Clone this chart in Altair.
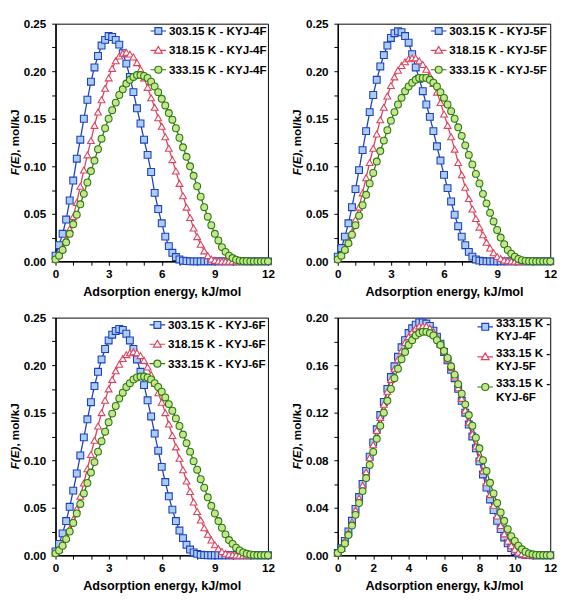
import altair as alt
import pandas as pd

# ---------------- data ----------------
E = [0.0, 0.2, 0.4, 0.6, 0.8, 1.0, 1.2, 1.4, 1.6, 1.8,
     2.0, 2.2, 2.4, 2.6, 2.8, 3.0, 3.2, 3.4, 3.6, 3.8,
     4.0, 4.2, 4.4, 4.6, 4.8, 5.0, 5.2, 5.4, 5.6, 5.8,
     6.0, 6.2, 6.4, 6.6, 6.8, 7.0, 7.2, 7.4, 7.6, 7.8,
     8.0, 8.2, 8.4, 8.6, 8.8, 9.0, 9.2, 9.4, 9.6, 9.8,
     10.0, 10.2, 10.4, 10.6, 10.8, 11.0, 11.2, 11.4, 11.6, 11.8, 12.0]

KYJ4F_303 = [0.006, 0.017, 0.029, 0.044, 0.064, 0.085, 0.108, 0.128, 0.150, 0.170,
             0.189, 0.204, 0.216, 0.227, 0.233, 0.237, 0.236, 0.233, 0.228, 0.219,
             0.208, 0.194, 0.178, 0.161, 0.145, 0.128, 0.112, 0.094, 0.072, 0.055,
             0.040, 0.026, 0.016, 0.009, 0.0045, 0.002, 0.0007, 0.0002, 0, 0,
             0, 0, 0, 0, 0, 0, 0, 0, 0, 0,
             0, 0, 0, 0, 0, 0, 0, 0, 0, 0, 0]
KYJ4F_318 = [0.002, 0.007, 0.014, 0.023, 0.034, 0.047, 0.062, 0.079, 0.096, 0.112,
             0.127, 0.143, 0.157, 0.170, 0.182, 0.193, 0.203, 0.211, 0.216, 0.219,
             0.220, 0.218, 0.215, 0.209, 0.202, 0.193, 0.183, 0.172, 0.162, 0.151,
             0.142, 0.131, 0.119, 0.107, 0.095, 0.082, 0.069, 0.057, 0.046, 0.035,
             0.026, 0.018, 0.011, 0.006, 0.0025, 0.001, 0.0004, 0.0001, 0, 0,
             0, 0, 0, 0, 0, 0, 0, 0, 0, 0, 0]
KYJ4F_333 = [0.002, 0.006, 0.012, 0.020, 0.029, 0.039, 0.049, 0.060, 0.071, 0.083,
             0.095, 0.106, 0.118, 0.129, 0.140, 0.150, 0.159, 0.167, 0.175, 0.181,
             0.187, 0.191, 0.194, 0.196, 0.196, 0.195, 0.193, 0.189, 0.184, 0.178,
             0.171, 0.164, 0.156, 0.149, 0.140, 0.130, 0.120, 0.110, 0.100, 0.090,
             0.079, 0.068, 0.057, 0.047, 0.038, 0.029, 0.022, 0.015, 0.010, 0.006,
             0.0035, 0.0017, 0.0008, 0.0003, 0.0001, 0, 0, 0, 0, 0, 0]

KYJ5F_303 = [0.005, 0.014, 0.026, 0.040, 0.057, 0.076, 0.096, 0.117, 0.137, 0.157,
             0.175, 0.191, 0.205, 0.217, 0.227, 0.235, 0.240, 0.242, 0.241, 0.237,
             0.230, 0.218, 0.204, 0.192, 0.179, 0.165, 0.152, 0.137, 0.121, 0.106,
             0.091, 0.077, 0.063, 0.049, 0.037, 0.026, 0.017, 0.010, 0.005, 0.002,
             0.0008, 0.0003, 0, 0, 0, 0, 0, 0, 0, 0,
             0, 0, 0, 0, 0, 0, 0, 0, 0, 0, 0]
KYJ5F_318 = [0.002, 0.007, 0.013, 0.021, 0.031, 0.044, 0.057, 0.072, 0.088, 0.104,
             0.119, 0.134, 0.149, 0.162, 0.174, 0.185, 0.194, 0.201, 0.206, 0.210,
             0.213, 0.214, 0.214, 0.211, 0.207, 0.202, 0.195, 0.187, 0.178, 0.167,
             0.155, 0.143, 0.131, 0.118, 0.104, 0.091, 0.078, 0.066, 0.055, 0.045,
             0.036, 0.028, 0.020, 0.014, 0.009, 0.005, 0.003, 0.0013, 0.0005, 0.0002,
             0, 0, 0, 0, 0, 0, 0, 0, 0, 0, 0]
KYJ5F_333 = [0.002, 0.006, 0.012, 0.019, 0.028, 0.038, 0.048, 0.059, 0.070, 0.082,
             0.093, 0.105, 0.116, 0.127, 0.138, 0.148, 0.157, 0.165, 0.172, 0.179,
             0.184, 0.188, 0.191, 0.193, 0.193, 0.193, 0.191, 0.188, 0.184, 0.178,
             0.172, 0.165, 0.158, 0.150, 0.141, 0.132, 0.122, 0.112, 0.102, 0.092,
             0.082, 0.071, 0.061, 0.051, 0.042, 0.033, 0.025, 0.018, 0.012, 0.008,
             0.005, 0.0025, 0.0012, 0.0005, 0.0002, 0.0001, 0, 0, 0, 0, 0]

KYJ6F_303 = [0.004, 0.012, 0.023, 0.036, 0.051, 0.068, 0.086, 0.105, 0.124, 0.143,
             0.161, 0.178, 0.193, 0.206, 0.217, 0.226, 0.232, 0.236, 0.238, 0.237,
             0.233, 0.226, 0.217, 0.206, 0.193, 0.179, 0.163, 0.146, 0.128, 0.110,
             0.093, 0.077, 0.062, 0.048, 0.036, 0.026, 0.018, 0.011, 0.006, 0.003,
             0.0015, 0.0005, 0.0002, 0, 0, 0, 0, 0, 0, 0,
             0, 0, 0, 0, 0, 0, 0, 0, 0, 0, 0]
KYJ6F_318 = [0.002, 0.006, 0.012, 0.019, 0.028, 0.038, 0.049, 0.062, 0.076, 0.091,
             0.106, 0.121, 0.136, 0.150, 0.163, 0.175, 0.185, 0.194, 0.201, 0.207,
             0.211, 0.213, 0.214, 0.213, 0.210, 0.205, 0.198, 0.190, 0.181, 0.171,
             0.161, 0.150, 0.138, 0.126, 0.114, 0.102, 0.090, 0.078, 0.067, 0.056,
             0.046, 0.037, 0.029, 0.022, 0.016, 0.011, 0.007, 0.004, 0.002, 0.001,
             0.0004, 0.0001, 0, 0, 0, 0, 0, 0, 0, 0, 0]
KYJ6F_333 = [0.002, 0.005, 0.010, 0.017, 0.025, 0.034, 0.044, 0.054, 0.065, 0.076,
             0.087, 0.098, 0.109, 0.120, 0.130, 0.140, 0.149, 0.157, 0.165, 0.171,
             0.177, 0.181, 0.185, 0.187, 0.188, 0.188, 0.187, 0.185, 0.181, 0.177,
             0.172, 0.166, 0.159, 0.152, 0.144, 0.136, 0.127, 0.118, 0.109, 0.099,
             0.090, 0.080, 0.071, 0.061, 0.052, 0.044, 0.036, 0.029, 0.022, 0.016,
             0.012, 0.008, 0.005, 0.003, 0.0016, 0.0008, 0.0003, 0.0001, 0, 0, 0]

NAMES_4F = ["303.15 K - KYJ-4F", "318.15 K - KYJ-4F", "333.15 K - KYJ-4F"]
NAMES_5F = ["303.15 K - KYJ-5F", "318.15 K - KYJ-5F", "333.15 K - KYJ-5F"]
NAMES_6F = ["303.15 K - KYJ-6F", "318.15 K - KYJ-6F", "333.15 K - KYJ-6F"]
NAMES_333 = ["333.15 K - KYJ-4F", "333.15 K - KYJ-5F", "333.15 K - KYJ-6F"]
MARKER_KEYS = ["sq", "tri", "circ"]

X_TICKS = [0, 1, 2, 3, 4, 5, 6, 7, 8, 9, 10, 11, 12]
Y_TICKS_25 = [0.0, 0.025, 0.05, 0.075, 0.10, 0.125, 0.15, 0.175, 0.20, 0.225, 0.25]
Y_TICKS_20 = [0.0, 0.02, 0.04, 0.06, 0.08, 0.10, 0.12, 0.14, 0.16, 0.18, 0.20]

# ---------------- style ----------------
FONT = "Liberation Sans"
LINE_COLORS = ["#1f3fc0", "#e0405c", "#2c7a12"]
FILL_COLORS = ["#a9cdf3", "#ffffff", "#c6e68a"]
SHAPES = ["square", "triangle-up", "circle"]
LEG_PATHS = [
    "M-1,0H-0.44M0.44,0H1M-0.44,-0.44H0.44V0.44H-0.44Z",
    "M-1,0H-0.28M0.28,0H1M0,-0.5L0.5,0.36H-0.5Z",
    "M-1,0H-0.45M0.45,0H1M0.45,0A0.45,0.45,0,1,1,-0.45,0A0.45,0.45,0,1,1,0.45,0Z",
]
W, H = 219, 245


def pick(names, vals):
    return (f"datum.value == '{names[0]}' ? '{vals[0]}' : "
            f"datum.value == '{names[1]}' ? '{vals[1]}' : '{vals[2]}'")


def make_panel(names, series, ymax, yticks, ymult, xstep, leg_x, two_line):
    rows = []
    for name, key, vals in zip(names, MARKER_KEYS, series):
        for e, f in zip(E, vals):
            rows.append({"E": e, "F": f, "series": name, "marker": key})
    df = pd.DataFrame(rows)

    xenc = alt.X("E:Q", scale=alt.Scale(domain=[0, 12], nice=False, zero=False),
                 axis=alt.Axis(values=X_TICKS, labelFlush=False, format="d",
                               labelExpr=f"datum.value % {xstep} == 0 ? datum.label : ''",
                               title="Adsorption energy, kJ/mol"))
    yenc = alt.Y("F:Q", scale=alt.Scale(domain=[0, ymax], nice=False),
                 axis=alt.Axis(values=yticks, format=".2f", title=None,
                               labelExpr=f"abs(datum.value*{ymult} - round(datum.value*{ymult})) < 0.000001 ? datum.label : ''"))

    leg_kw = dict(title=None, orient="none", legendX=leg_x, legendY=-1.5, padding=0,
                  rowPadding=5, labelOffset=2, symbolSize=256, labelLimit=300,
                  symbolStrokeWidth=1.2,
                  symbolType=alt.ExprRef(pick(names, LEG_PATHS)),
                  labelFont=FONT, labelFontSize=12, labelFontWeight="bold",
                  labelColor="black")
    if two_line:
        leg_kw["labelExpr"] = "[substring(datum.label, 0, 10), substring(datum.label, 11)]"
        leg_kw["labelBaseline"] = "alphabetic"
        leg_kw["rowPadding"] = 5
        leg_kw["legendY"] = 0.5
    legend = alt.Legend(**leg_kw)

    stroke_enc = alt.Stroke("series:N", scale=alt.Scale(domain=names, range=LINE_COLORS), legend=legend)
    fill_enc = alt.Fill("series:N", scale=alt.Scale(domain=names, range=FILL_COLORS), legend=legend)

    lines = alt.Chart(df).mark_line(strokeWidth=1.3).encode(
        x=xenc, y=yenc, stroke=stroke_enc,
    )
    pts = alt.Chart(df).mark_point(opacity=1, size=50, strokeWidth=1.1).encode(
        x=xenc, y=yenc,
        shape=alt.Shape("marker:N", scale=alt.Scale(domain=MARKER_KEYS, range=SHAPES), legend=None),
        fill=fill_enc,
        stroke=stroke_enc,
    )
    one = pd.DataFrame({"k": [0]})
    t1 = alt.Chart(one).mark_text(text="F(E)", angle=270, align="right", baseline="middle",
                                  font=FONT, fontSize=12, fontWeight="bold", fontStyle="italic",
                                  color="black").encode(x=alt.value(-42), y=alt.value(133))
    t2 = alt.Chart(one).mark_text(text=", mol/kJ", angle=270, align="left", baseline="middle",
                                  font=FONT, fontSize=12, fontWeight="bold",
                                  color="black").encode(x=alt.value(-42), y=alt.value(133))
    return alt.layer(lines, pts, t1, t2).properties(width=W, height=H)


p1 = make_panel(NAMES_4F, [KYJ4F_303, KYJ4F_318, KYJ4F_333], 0.25, Y_TICKS_25, 20, 3, 97, False)
p2 = make_panel(NAMES_5F, [KYJ5F_303, KYJ5F_318, KYJ5F_333], 0.25, Y_TICKS_25, 20, 3, 95, False)
p3 = make_panel(NAMES_6F, [KYJ6F_303, KYJ6F_318, KYJ6F_333], 0.25, Y_TICKS_25, 20, 3, 96, False)
p4 = make_panel(NAMES_333, [KYJ4F_333, KYJ5F_333, KYJ6F_333], 0.20, Y_TICKS_20, 25, 2, 143, True)

RES = dict(x="independent", y="independent", color="independent",
           fill="independent", stroke="independent", shape="independent")

top = alt.hconcat(p1, p2, spacing=15).resolve_scale(**RES)
bottom = alt.hconcat(p3, p4, spacing=15).resolve_scale(**RES)
chart = (
    alt.vconcat(top, bottom, spacing=12)
    .resolve_scale(**RES)
    .properties(padding=0, background="white")
    .configure_view(stroke="black", strokeWidth=1)
    .configure_axis(labelFont=FONT, labelFontSize=12, labelFontWeight="bold", labelColor="black",
                    titleFont=FONT, titleFontSize=13, titleFontWeight="bold", titleColor="black",
                    domainColor="black", domainWidth=1.5, tickColor="black", tickSize=4,
                    tickWidth=1, grid=False)
    .configure_axisX(labelPadding=4, titlePadding=6)
    .configure_axisY(labelPadding=6)
)

chart.save("out.html", embed_options={"renderer": "svg", "actions": False})
